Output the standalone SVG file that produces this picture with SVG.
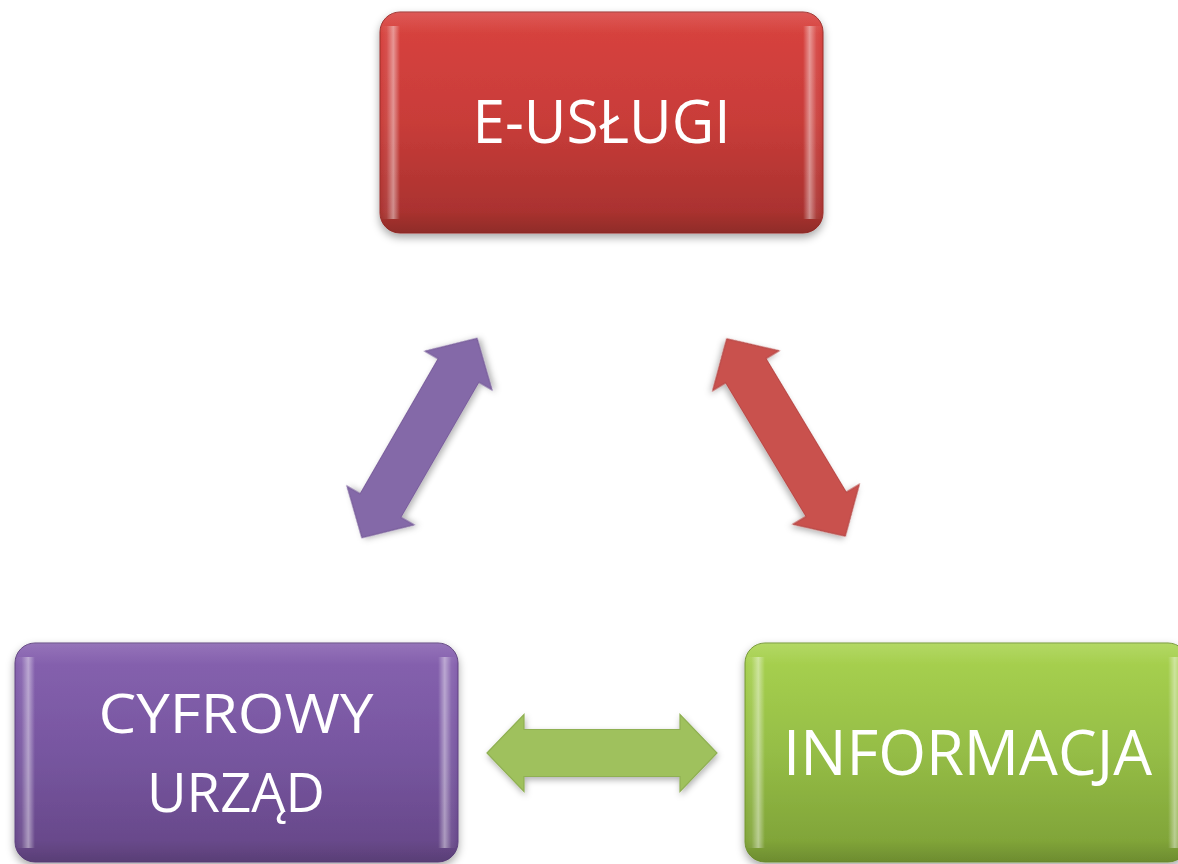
<svg xmlns="http://www.w3.org/2000/svg" width="1178" height="864" viewBox="0 0 1178 864">
<style>
.lbl{font-family:"Open Sans","Liberation Sans",sans-serif;fill:#ffffff;text-anchor:middle}
.arr{stroke-width:1.2;stroke-linejoin:miter}
</style>
<defs>
<filter id="sh" x="-10%" y="-10%" width="120%" height="130%">
<feDropShadow dx="0" dy="4" stdDeviation="4" flood-color="#000" flood-opacity="0.35"/>
</filter>
<filter id="shA" x="-20%" y="-20%" width="140%" height="140%">
<feDropShadow dx="1" dy="3" stdDeviation="3" flood-color="#000" flood-opacity="0.3"/>
</filter>
<linearGradient id="gRed" x1="0" y1="0" x2="0" y2="1">
<stop offset="0" stop-color="#d9433f"/><stop offset="0.5" stop-color="#c83c39"/><stop offset="1" stop-color="#a3302d"/>
</linearGradient>
<linearGradient id="gPur" x1="0" y1="0" x2="0" y2="1">
<stop offset="0" stop-color="#8762b0"/><stop offset="0.5" stop-color="#7756a0"/><stop offset="1" stop-color="#654686"/>
</linearGradient>
<linearGradient id="gGrn" x1="0" y1="0" x2="0" y2="1">
<stop offset="0" stop-color="#a9d350"/><stop offset="0.5" stop-color="#95bd46"/><stop offset="1" stop-color="#7c9f36"/>
</linearGradient>
<linearGradient id="hl" x1="0" y1="0" x2="1" y2="0">
<stop offset="0" stop-color="#fff" stop-opacity="0"/>
<stop offset="0.015" stop-color="#fff" stop-opacity="0.08"/>
<stop offset="0.03" stop-color="#fff" stop-opacity="0.45"/>
<stop offset="0.045" stop-color="#fff" stop-opacity="0"/>
<stop offset="0.955" stop-color="#fff" stop-opacity="0"/>
<stop offset="0.97" stop-color="#fff" stop-opacity="0.45"/>
<stop offset="0.985" stop-color="#fff" stop-opacity="0.08"/>
<stop offset="1" stop-color="#fff" stop-opacity="0"/>
</linearGradient>
<linearGradient id="topHl" x1="0" y1="0" x2="0" y2="1">
<stop offset="0" stop-color="#fff" stop-opacity="0.12"/>
<stop offset="0.1" stop-color="#fff" stop-opacity="0"/>
<stop offset="0.9" stop-color="#000" stop-opacity="0"/>
<stop offset="1" stop-color="#000" stop-opacity="0.12"/>
</linearGradient>
<path id="dblArrow" d="M -115 0 L -78 -38.5 L -78 -23.5 L 78 -23.5 L 78 -38.5 L 115 0 L 78 38.5 L 78 23.5 L -78 23.5 L -78 38.5 Z"/>
</defs>
<rect width="1178" height="864" fill="#ffffff"/>

<g id="connectors">
<use href="#dblArrow" class="arr" fill="#8469a8" stroke="#7a5f9c" filter="url(#shA)" transform="translate(419.5 438) rotate(-60)"/>
<use href="#dblArrow" class="arr" fill="#c9514e" stroke="#b94a47" filter="url(#shA)" transform="translate(786 437.5) rotate(59)"/>
<use href="#dblArrow" class="arr" fill="#9fc15d" stroke="#8fb052" filter="url(#shA)" transform="translate(602 753)"/>
</g>

<g id="node-e-uslugi">
<rect x="380" y="12" width="443" height="221" rx="20" fill="url(#gRed)" stroke="#9a2e2b" stroke-width="1" filter="url(#sh)"/>
<rect x="380" y="12" width="443" height="221" rx="20" fill="url(#topHl)"/>
<rect x="380" y="26" width="443" height="193" fill="url(#hl)"/>
<text class="lbl" x="601.5" y="143" font-size="61" textLength="258" lengthAdjust="spacingAndGlyphs">E-USŁUGI</text>
</g>

<g id="node-cyfrowy-urzad">
<rect x="15" y="643" width="443" height="219" rx="20" fill="url(#gPur)" stroke="#5e427e" stroke-width="1" filter="url(#sh)"/>
<rect x="15" y="643" width="443" height="219" rx="20" fill="url(#topHl)"/>
<rect x="15" y="657" width="443" height="191" fill="url(#hl)"/>
<text class="lbl" x="236" y="733" font-size="55" textLength="275" lengthAdjust="spacingAndGlyphs">CYFROWY</text>
<text class="lbl" x="236" y="812" font-size="55" textLength="178" lengthAdjust="spacingAndGlyphs">URZĄD</text>
</g>

<g id="node-informacja">
<rect x="745" y="643" width="443" height="219" rx="20" fill="url(#gGrn)" stroke="#739533" stroke-width="1" filter="url(#sh)"/>
<rect x="745" y="643" width="443" height="219" rx="20" fill="url(#topHl)"/>
<rect x="745" y="657" width="443" height="191" fill="url(#hl)"/>
<text class="lbl" x="967.5" y="775" font-size="63" textLength="369" lengthAdjust="spacingAndGlyphs">INFORMACJA</text>
</g>
</svg>
